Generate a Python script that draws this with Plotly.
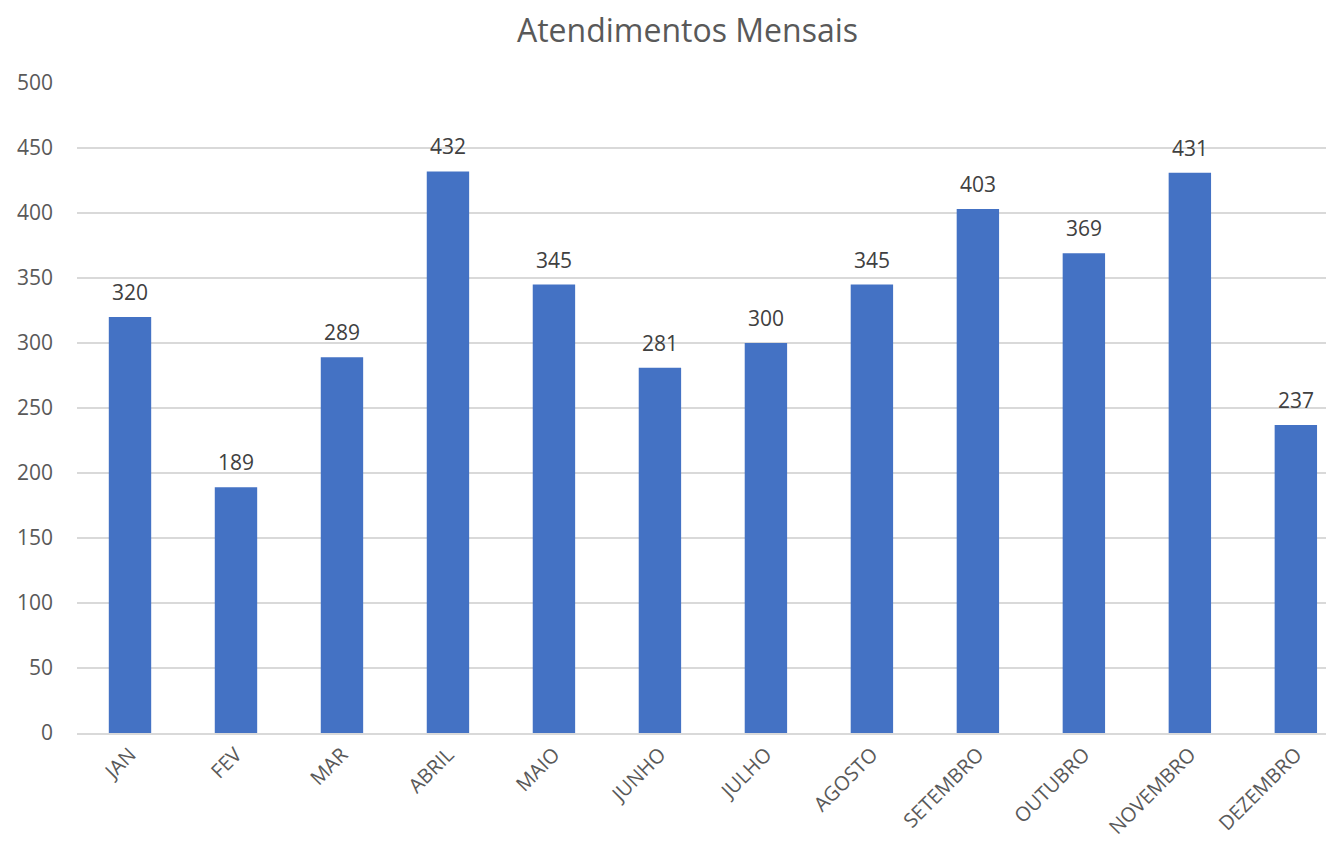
import plotly.graph_objects as go

months = ["JAN", "FEV", "MAR", "ABRIL", "MAIO", "JUNHO", "JULHO", "AGOSTO",
          "SETEMBRO", "OUTUBRO", "NOVEMBRO", "DEZEMBRO"]
values = [320, 189, 289, 432, 345, 281, 300, 345, 403, 369, 431, 237]
y_ticks = [0, 50, 100, 150, 200, 250, 300, 350, 400, 450, 500]

FONT = "Open Sans, Noto Sans, sans-serif"

fig = go.Figure()
fig.add_trace(go.Bar(
    x=months, y=values, width=0.4,
    marker=dict(color="#4472C4", line=dict(width=0)),
    hoverinfo="x+y",
))

for m, v in zip(months, values):
    fig.add_annotation(x=m, y=v, text=str(v), showarrow=False,
                       yanchor="bottom", yshift=9,
                       font=dict(family=FONT, size=21, color="#404040"))

fig.update_layout(
    width=1326, height=840,
    margin=dict(l=69, r=0, t=75, b=115),
    plot_bgcolor="white", paper_bgcolor="white",
    showlegend=False,
    title=dict(text="Atendimentos Mensais", x=679.5 / 1326, xanchor="center",
               y=1 - 23 / 840, yanchor="middle",
               font=dict(family=FONT, size=32, color="#595959")),
    xaxis=dict(
        range=[-0.5, 11.36], tickangle=-45,
        tickfont=dict(family=FONT, size=20, color="#595959"),
        showgrid=False, showline=True, linecolor="#d9d9d9", linewidth=2,
        ticks="", zeroline=False,
    ),
    yaxis=dict(
        range=[0, 500], tickvals=y_ticks,
        tickfont=dict(family=FONT, size=21, color="#595959"),
        showgrid=True, gridcolor="#d9d9d9", gridwidth=1.5,
        zeroline=False, ticks="", ticklabelstandoff=23,
    ),
)

fig.write_html("out.html")
